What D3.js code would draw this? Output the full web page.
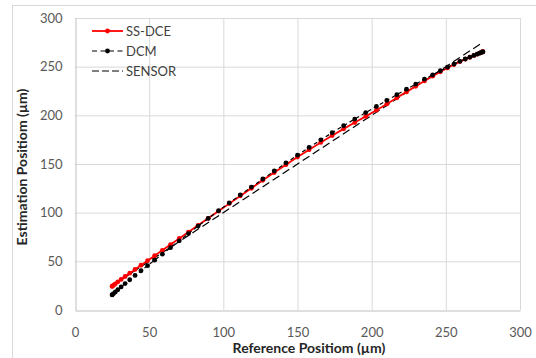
<!DOCTYPE html>
<html>
<head>
<meta charset="utf-8">
<script src="https://cdn.jsdelivr.net/npm/d3@7"></script>
<style>
  body { margin: 0; background: #fff; }
  svg text { font-family: Lato, "Open Sans", sans-serif; }
</style>
</head>
<body>
<div id="chart"></div>
<script>
"use strict";

// reference positions (µm), shared by both estimators
const refPos = [25.0, 25.2, 26.0, 27.2, 28.9, 31.1, 33.8, 36.9, 40.5, 44.5, 48.9, 53.7, 58.9, 64.4, 70.3,
    76.5, 83.0, 89.8, 96.8, 104.0, 111.4, 118.9, 126.6, 134.3, 142.2, 150.0, 157.8, 165.7, 173.4, 181.1,
    188.6, 196.0, 203.2, 210.2, 217.0, 223.5, 229.7, 235.6, 241.1, 246.3, 251.1, 255.5, 259.5, 263.1,
    266.2, 268.9, 271.1, 272.8, 274.0, 274.8, 275.0];

const ssdce = [24.2, 24.5, 25.5, 26.9, 28.9, 31.4, 34.4, 37.8, 41.7, 46.0, 50.7, 55.8, 61.3, 67.2, 73.5,
    80.1, 87.0, 94.2, 101.6, 109.3, 117.2, 125.1, 133.2, 141.2, 149.3, 157.1, 164.7, 172.2, 179.3, 186.1,
    192.6, 198.9, 205.2, 211.6, 218.0, 224.1, 229.9, 235.3, 240.2, 244.7, 248.7, 252.2, 255.2, 257.7,
    259.7, 261.4, 262.8, 263.9, 264.7, 265.3, 265.4];

const dcm = [15.5, 15.8, 16.9, 18.5, 20.8, 23.7, 27.2, 31.1, 35.5, 40.3, 45.5, 51.2, 57.4, 64.0, 71.1,
    78.5, 86.2, 94.1, 102.0, 110.0, 118.2, 126.3, 134.6, 142.8, 151.1, 159.1, 167.0, 174.8, 182.2, 189.4,
    196.2, 202.8, 209.2, 215.3, 221.2, 226.8, 232.1, 237.1, 241.6, 245.8, 249.5, 252.7, 255.5, 257.9,
    259.8, 261.5, 262.8, 263.9, 264.6, 265.1, 265.2];

const sensorX = [25, 275];
const sensorY = [25, 275];

const xTicks = [0, 50, 100, 150, 200, 250, 300];
const yTicks = [0, 50, 100, 150, 200, 250, 300];

const seriesNames = ["SS-DCE", "DCM", "SENSOR"];

const width = 536, height = 358;
const margin = { top: 18, right: 16, bottom: 48, left: 75 };

const svg = d3.select("#chart")
    .append("svg")
    .attr("width", width)
    .attr("height", height);

svg.append("rect")
    .attr("x", 0).attr("y", 0)
    .attr("width", width).attr("height", height)
    .attr("fill", "#fff");

// chart frame (only top and left edges fall inside the picture)
svg.append("rect")
    .attr("x", 12.5).attr("y", 5.5)
    .attr("width", width).attr("height", height)
    .attr("fill", "none")
    .attr("stroke", "#d9d9d9");

const x = d3.scaleLinear()
    .domain([0, 300])
    .range([margin.left, width - margin.right]);

const y = d3.scaleLinear()
    .domain([0, 300])
    .range([height - margin.bottom, margin.top]);

// grid
svg.append("g")
    .selectAll("line")
    .data(xTicks.slice(1))
    .enter()
    .append("line")
    .attr("x1", d => x(d) + 0.5).attr("x2", d => x(d) + 0.5)
    .attr("y1", y(0)).attr("y2", y(300))
    .attr("stroke", "#d9d9d9");

svg.append("g")
    .selectAll("line")
    .data(yTicks.slice(1))
    .enter()
    .append("line")
    .attr("x1", x(0)).attr("x2", x(300))
    .attr("y1", d => y(d) + 0.5).attr("y2", d => y(d) + 0.5)
    .attr("stroke", "#d9d9d9");

// axes
const xAxis = svg.append("g")
    .attr("transform", "translate(0," + (y(0) + 0.5) + ")")
    .call(d3.axisBottom(x).tickValues(xTicks).tickSize(0).tickPadding(17));

const yAxis = svg.append("g")
    .attr("transform", "translate(" + (x(0) + 0.5) + ",0)")
    .call(d3.axisLeft(y).tickValues(yTicks).tickSize(0).tickPadding(13));

[xAxis, yAxis].forEach(function (g) {
    g.select(".domain").attr("stroke", "#bfbfbf");
    g.selectAll("text")
        .attr("fill", "#595959")
        .style("font-size", "13px");
});

// axis titles
svg.append("text")
    .attr("x", 309)
    .attr("y", 353)
    .attr("text-anchor", "middle")
    .attr("font-weight", "bold")
    .attr("font-size", "14px")
    .attr("fill", "#262626")
    .text("Reference Positiom  (µm)");

svg.append("text")
    .attr("transform", "translate(27,167) rotate(-90)")
    .attr("text-anchor", "middle")
    .attr("font-weight", "bold")
    .attr("font-size", "14px")
    .attr("fill", "#262626")
    .text("Estimation Positiom  (µm)");

// series
const line = d3.line()
    .x(d => x(d[0]))
    .y(d => y(d[1]));

const sensorData = d3.zip(sensorX, sensorY);
const ssdceData = d3.zip(refPos, ssdce);
const dcmData = d3.zip(refPos, dcm);

svg.append("path")
    .datum(sensorData)
    .attr("d", line)
    .attr("fill", "none")
    .attr("stroke", "#000")
    .attr("stroke-width", 1.2)
    .attr("stroke-dasharray", "8,4");

svg.append("path")
    .datum(ssdceData)
    .attr("d", line)
    .attr("fill", "none")
    .attr("stroke", "#ff0000")
    .attr("stroke-width", 1.8);

svg.append("g")
    .selectAll("circle")
    .data(ssdceData)
    .enter()
    .append("circle")
    .attr("cx", d => x(d[0]))
    .attr("cy", d => y(d[1]))
    .attr("r", 2.4)
    .attr("fill", "#ff0000");

svg.append("path")
    .datum(dcmData)
    .attr("d", line)
    .attr("fill", "none")
    .attr("stroke", "#000")
    .attr("stroke-width", 1.2)
    .attr("stroke-dasharray", "4,3");

svg.append("g")
    .selectAll("circle")
    .data(dcmData)
    .enter()
    .append("circle")
    .attr("cx", d => x(d[0]))
    .attr("cy", d => y(d[1]))
    .attr("r", 2.4)
    .attr("fill", "#000");

// legend
const legend = svg.append("g")
    .attr("transform", "translate(92,31)");

const legendStyles = [
    { color: "#ff0000", dash: null, marker: true, w: 1.8 },
    { color: "#000", dash: "5,3.5", marker: true, w: 1.2 },
    { color: "#000", dash: "7,3", marker: false, w: 1.2 }
];

seriesNames.forEach(function (name, i) {
    const s = legendStyles[i];
    const g = legend.append("g").attr("transform", "translate(0," + (i * 20) + ")");
    g.append("line")
        .attr("x1", 0).attr("x2", 31)
        .attr("y1", 0).attr("y2", 0)
        .attr("stroke", s.color)
        .attr("stroke-width", s.w)
        .attr("stroke-dasharray", s.dash);
    if (s.marker) {
        g.append("circle")
            .attr("cx", 15.5).attr("cy", 0)
            .attr("r", 2.4)
            .attr("fill", s.color);
    }
    g.append("text")
        .attr("x", 34)
        .attr("y", 0)
        .attr("dy", "0.35em")
        .attr("font-size", "13px")
        .attr("fill", "#404040")
        .text(name);
});
</script>
</body>
</html>
